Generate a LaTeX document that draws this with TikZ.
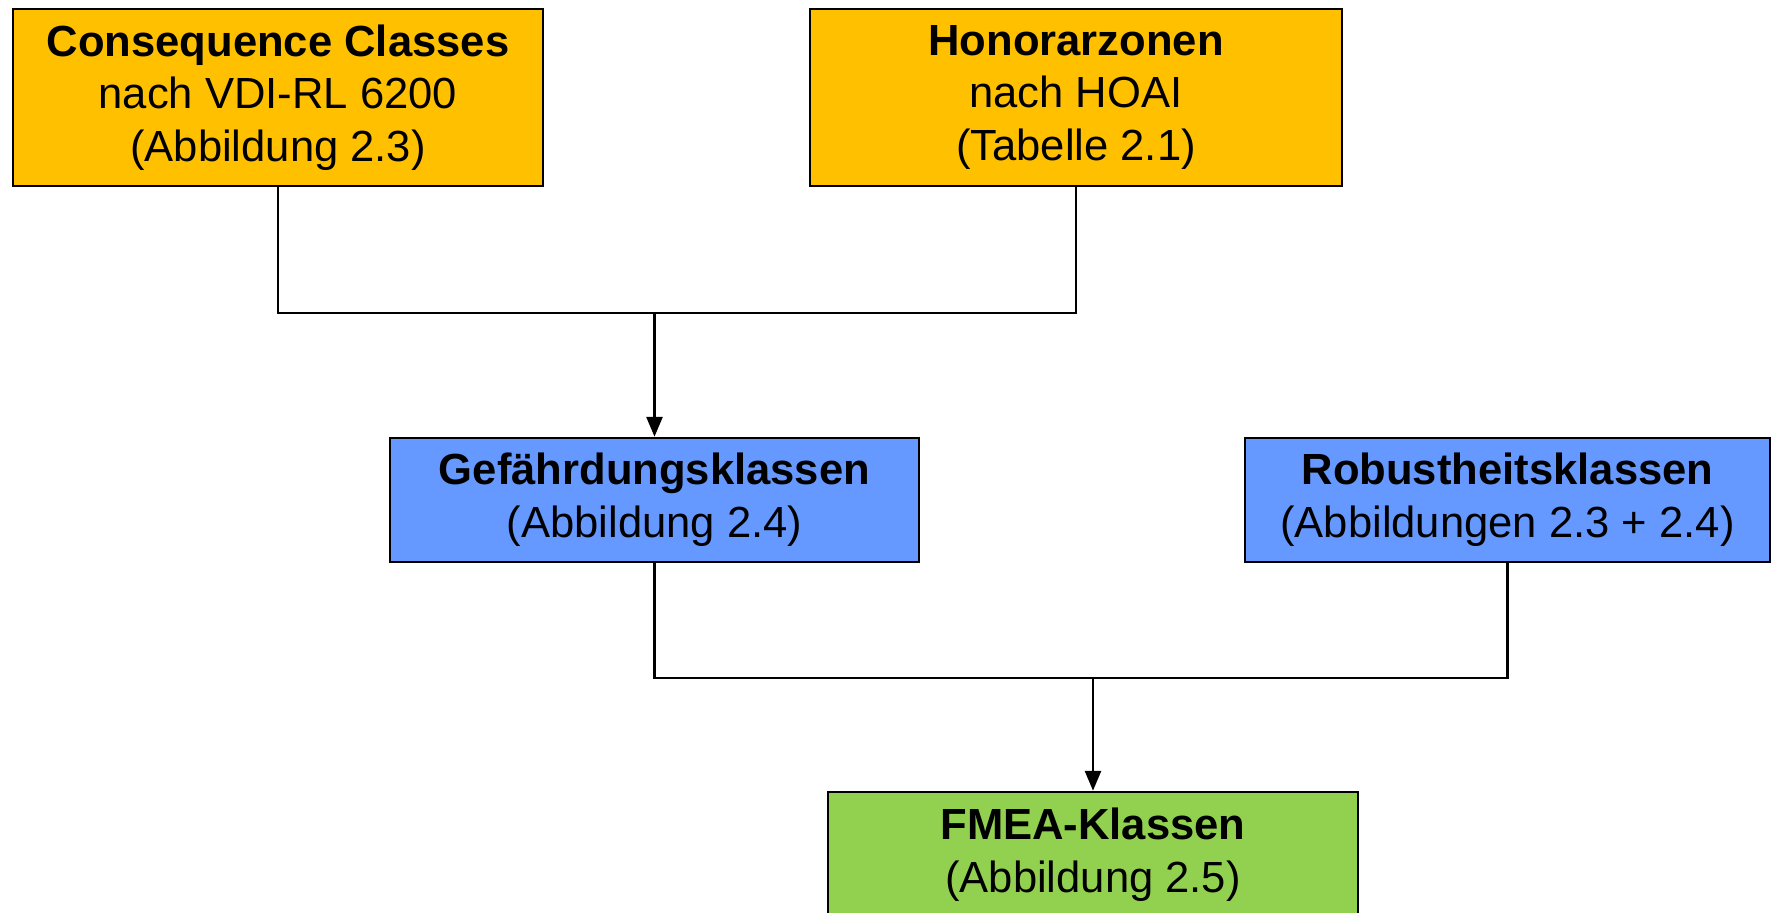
\documentclass[tikz,border=0pt]{standalone}
\usepackage{fontspec}
\setmainfont{Liberation Sans}
\usetikzlibrary{arrows.meta, calc}

\definecolor{consorange}{HTML}{FFC000}
\definecolor{klassblue}{HTML}{6699FF}
\definecolor{fmeagreen}{HTML}{92D050}

\begin{document}
\begin{tikzpicture}[>={Triangle[length=0.2cm, width=0.16cm]}, font=\fontsize{12.4}{15}\selectfont,
	box/.style={draw=black, line width=0.7pt, align=center, inner sep=0pt},
	link/.style={line width=0.8pt, draw=black}]
		
		% --- 0. Page frame (reference proportions) ---
		\useasboundingbox (0,0) rectangle (17.71,-9.13);
		\clip (0,0) rectangle (17.71,-9.13);
		
		% --- 1. Input boxes (top row) ---
		\node[box, fill=consorange, minimum width=5.30cm, minimum height=1.77cm] (cc) at (2.78,-0.975) {%
			\textbf{Consequence Classes}\\
			nach VDI-RL 6200\\
			(Abbildung 2.3)};
		\node[box, fill=consorange, minimum width=5.32cm, minimum height=1.77cm] (hz) at (10.76,-0.975) {%
			\textbf{Honorarzonen}\\
			nach HOAI\\
			(Tabelle 2.1)};
		
		% --- 2. Intermediate classes ---
		\node[box, fill=klassblue, minimum width=5.29cm, minimum height=1.24cm] (gef) at (6.545,-5.00) {%
			\textbf{Gefährdungsklassen}\\
			(Abbildung 2.4)};
		\node[box, fill=klassblue, minimum width=5.25cm, minimum height=1.24cm] (rob) at (15.075,-5.00) {%
			\textbf{Robustheitsklassen}\\
			(Abbildungen 2.3 + 2.4)};
		
		% --- 3. Result box (cut by the page edge) ---
		\node[box, fill=fmeagreen, minimum width=5.30cm, minimum height=1.26cm] (fmea) at (10.93,-8.55) {%
			\textbf{FMEA-Klassen}\\
			(Abbildung 2.5)};
		
		% --- 4. Connectors ---
		% junction points on the horizontal bars
		\coordinate (j1) at ($(gef.north |- 0,-3.13)$);
		\coordinate (j2) at ($(fmea.north |- 0,-6.78)$);
		
		\draw[link] (cc.south) |- (j1) -| (hz.south);
		\draw[link, ->] (j1) -- (gef.north);
		
		\draw[link] (gef.south) |- (j2) -| (rob.south);
		\draw[link, ->] (j2) -- (fmea.north);
		
	\end{tikzpicture}
\end{document}
